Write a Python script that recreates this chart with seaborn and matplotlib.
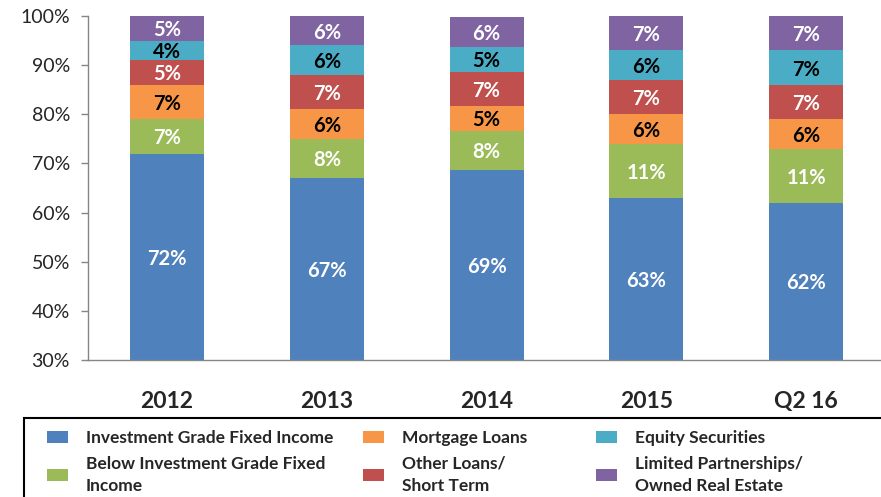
import numpy as np
import pandas as pd
import matplotlib
matplotlib.use("Agg")
import matplotlib.pyplot as plt
from matplotlib.patches import Patch, Rectangle
import seaborn as sns

# Data (share of portfolio, %)
periods = ["2012", "2013", "2014", "2015", "Q2 16"]
inv_grade = [72, 67, 68.7, 63, 62]
below_inv_grade = [7, 8, 8, 11, 11]
mortgage = [7, 6, 5, 6, 6]
other_loans = [5, 7, 7, 7, 7]
equity = [4, 6, 5, 6, 7]
ltd_partnerships = [5, 6, 6, 7, 7]

series_names = ["Investment Grade Fixed Income",
                "Below Investment Grade Fixed\nIncome",
                "Mortgage Loans",
                "Other Loans/\nShort Term",
                "Equity Securities",
                "Limited Partnerships/\nOwned Real Estate"]
series_values = [inv_grade, below_inv_grade, mortgage, other_loans, equity, ltd_partnerships]
colors = ["#4F81BD", "#9BBB59", "#F79646", "#C0504D", "#4BACC6", "#8064A2"]
label_colors = ["white", "white", "black", "white", "black", "white"]

y_min = 30

sns.set_style("white")
plt.rcParams["font.family"] = ["Lato", "DejaVu Sans"]

fig = plt.figure(figsize=(8.81, 4.97), dpi=100)
ax = fig.add_axes([88 / 881, 1 - 360 / 497, 793 / 881, 344 / 497])

bottom = np.zeros(len(periods))
for name, vals, col, lc in zip(series_names, series_values, colors, label_colors):
    df = pd.DataFrame({"period": periods, "value": vals})
    sns.barplot(data=df, x="period", y="value", order=periods, color=col,
                width=0.463, bottom=bottom.copy(), saturation=1, ax=ax,
                edgecolor="none", linewidth=0)
    for i, v in enumerate(vals):
        # centre of the visible part of the segment
        lo = max(bottom[i], y_min)
        hi = bottom[i] + v
        ax.text(i, (lo + hi) / 2 - 0.4, f"{round(v)}%", ha="center", va="center",
                color=lc, fontsize=14.5, fontweight="bold")
    bottom = bottom + np.array(vals)

ax.set_ylim(y_min, 100)
ax.set_xlim(-0.4945, 4.469)
ax.set_yticks(range(30, 101, 10))
ax.set_yticklabels([f"{t}%" for t in range(30, 101, 10)], fontsize=14)
ax.set_xlabel("")
ax.set_ylabel("")
for lbl in ax.get_xticklabels():
    lbl.set_fontsize(16.5)
    lbl.set_fontweight("bold")
ax.tick_params(axis="x", length=0, pad=22)
ax.tick_params(axis="y", length=5, width=1, color="#868686", direction="out", pad=8, left=True)
for s in ["top", "right"]:
    ax.spines[s].set_visible(False)
for s in ["left", "bottom"]:
    ax.spines[s].set_color("#868686")
    ax.spines[s].set_linewidth(1)

# Legend box
fig.add_artist(Rectangle((24 / 881, -0.1), 1.0, 1 - 418 / 497 + 0.1,
                         transform=fig.transFigure, fill=False,
                         edgecolor="black", linewidth=1.5, clip_on=False))

handles = [Patch(facecolor=c, edgecolor="none") for c in colors]
col_x = [47, 363, 596]
for k in range(3):
    leg = fig.legend(handles[2 * k:2 * k + 2], series_names[2 * k:2 * k + 2],
                     loc="upper left", bbox_to_anchor=(col_x[k] / 881, 1 - 430 / 497),
                     frameon=False, borderpad=0, borderaxespad=0,
                     handlelength=1.2, handleheight=0.7, handletextpad=1.05,
                     labelspacing=0.55, prop={"weight": "bold", "size": 12.5})
    for t in leg.get_texts():
        t.set_linespacing(1.5)

fig.savefig("out.png", dpi=100)
